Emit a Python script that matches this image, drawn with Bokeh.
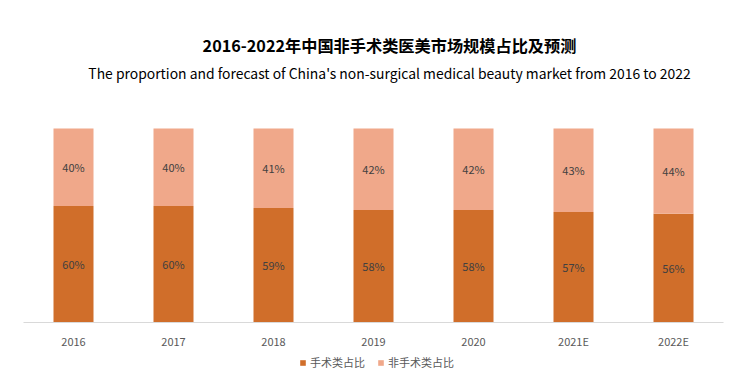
from bokeh.plotting import figure
from bokeh.models import ColumnDataSource, Label, Legend, LegendItem, LabelSet, FactorRange, Range1d
from bokeh.core.properties import value
from bokeh.embed import file_html
from bokeh.resources import INLINE

years = ["2016", "2017", "2018", "2019", "2020", "2021E", "2022E"]
surgical = [60, 60, 59, 58, 58, 57, 56]
non_surgical = [40, 40, 41, 42, 42, 43, 44]
series_names = ["手术类占比", "非手术类占比"]
title_cn = "2016-2022年中国非手术类医美市场规模占比及预测"
title_en = "The proportion and forecast of China's non-surgical medical beauty market from 2016 to 2022"

FONT = "Noto Sans CJK SC"
DARK = "#D06E2A"
LIGHT = "#F0A88A"

s_frac = [v / 100 for v in surgical]
n_frac = [v / 100 for v in non_surgical]
src = ColumnDataSource(dict(
    x=years, s=s_frac, n=n_frac,
    s_mid=[a / 2 for a in s_frac],
    n_mid=[a + b / 2 for a, b in zip(s_frac, n_frac)],
    s_lab=[f"{v}%" for v in surgical],
    n_lab=[f"{v}%" for v in non_surgical],
))

W, H = 746, 379
PX_PER_UNIT = 194.0          # pixels for 100%
TOP_SPACE, BOTTOM_SPACE = 128, 57

p = figure(width=W, height=H,
           x_range=FactorRange(*years, range_padding=0.23, range_padding_units="absolute"),
           y_range=Range1d(-BOTTOM_SPACE / PX_PER_UNIT, 1 + TOP_SPACE / PX_PER_UNIT),
           output_backend="svg", toolbar_location=None, min_border=0,
           min_border_left=0, min_border_right=0, min_border_top=0, min_border_bottom=0)

rs = p.vbar_stack(["s", "n"], x="x", width=0.4, source=src, color=[DARK, LIGHT], line_color=None)

for col, ycol in (("s_lab", "s_mid"), ("n_lab", "n_mid")):
    p.add_layout(LabelSet(x="x", y=ycol, text=col, source=src, text_align="center",
                          text_baseline="middle", text_font_size="11px",
                          text_color="#404040", text_font=value(FONT)))

p.yaxis.visible = False
p.xgrid.visible = False
p.ygrid.visible = False
p.outline_line_color = None
p.xaxis.fixed_location = 0
p.xaxis.bounds = (0, len(years))
p.xaxis.axis_line_color = "#D9D9D9"
p.xaxis.major_tick_line_color = None
p.xaxis.minor_tick_line_color = None
p.xaxis.major_tick_out = 0
p.xaxis.major_tick_in = 0
p.xaxis.major_label_text_font_size = "11px"
p.xaxis.major_label_text_color = "#595959"
p.xaxis.major_label_text_font = FONT
p.xaxis.major_label_standoff = 10

cx = 3.66  # title centre in category units
p.add_layout(Label(x=cx, y=1 + (TOP_SPACE - 44) / PX_PER_UNIT, text=title_cn,
                   text_align="center", text_baseline="middle",
                   text_font_size="16.2px", text_font_style="bold", text_color="#000000",
                   text_font=FONT))
p.add_layout(Label(x=cx, y=1 + (TOP_SPACE - 72) / PX_PER_UNIT, text=title_en,
                   text_align="center", text_baseline="middle",
                   text_font_size="13.9px", text_color="#000000", text_font=FONT))

legend = Legend(items=[LegendItem(label=series_names[0], renderers=[rs[0]]),
                       LegendItem(label=series_names[1], renderers=[rs[1]])],
                orientation="horizontal", location=(299, 9),
                glyph_width=7, glyph_height=7, label_standoff=4, spacing=12,
                padding=0, margin=0, border_line_color=None, background_fill_alpha=0,
                label_text_font_size="11px", label_text_color="#595959",
                label_text_font=FONT, label_height=14)
p.add_layout(legend, "center")

open("out.html", "w").write(file_html(p, INLINE))
